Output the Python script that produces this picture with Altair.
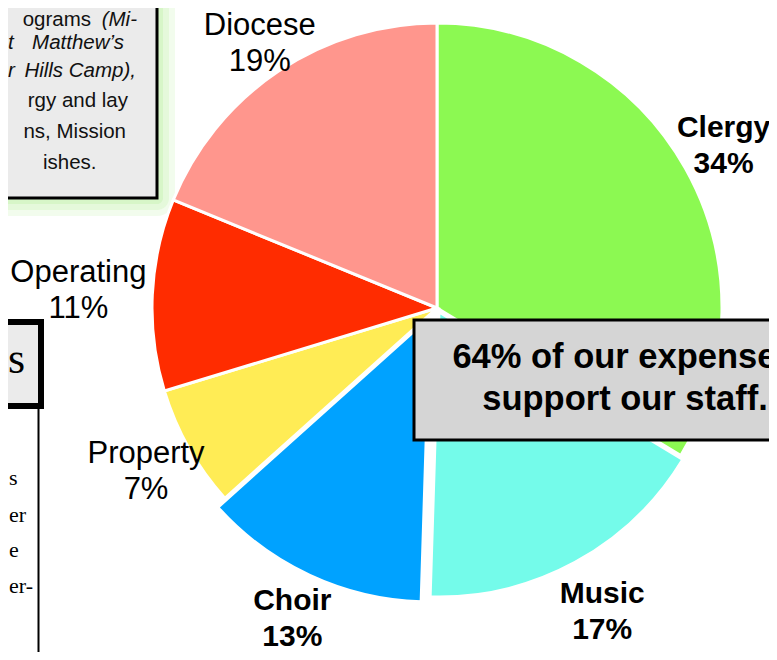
import altair as alt
import pandas as pd

# ---------------- data ----------------
categories = ["Clergy", "Music", "Choir", "Property", "Operating", "Diocese"]
percents = [34, 17, 13, 7, 11, 19]
slice_colors = ["#8CF952", "#74FBEA", "#00A2FF", "#FFEC55", "#FF2C00", "#FF968D"]
bold_categories = ["Clergy", "Music", "Choir"]
callout_lines = ["64% of our expenses", "support our staff."]
note_words = ["ograms", "(Mi-", "t", "Matthew\u2019s", "r", "Hills Camp),", "rgy and lay", "ns, Mission", "ishes."]
column_lines = ["s", "er", "e", "er-"]
box_title = "s"

# ---------------- layout (image pixels, page margin 8) ----------------
M = 8
CX, CY, R = 437 - M, 308 - M, 285
LH = 36
label_radius = {"Clergy": 329, "Music": 346, "Choir": 343,
                "Property": 334, "Operating": 359, "Diocese": 318}
explode = {"Music": (2, 4), "Choir": (-7, 9)}

df = pd.DataFrame({"category": categories, "value": percents,
                   "order": list(range(len(categories)))})

radius_expr = " : ".join(
    f"datum.category === '{k}' ? {v}" for k, v in label_radius.items()
) + " : 330"

base = alt.Chart(df).transform_joinaggregate(
    total="sum(value)"
).transform_window(
    cum="sum(value)", sort=[alt.SortField("order")], frame=[None, 0]
).transform_calculate(
    t0="(datum.cum - datum.value) / datum.total * 2 * PI",
    t1="datum.cum / datum.total * 2 * PI",
    mid="(datum.cum - datum.value / 2) / datum.total * 2 * PI",
    label="datum.category + '\\n' + datum.value + '%'",
)

color = alt.Color("category:N", scale=alt.Scale(domain=categories, range=slice_colors), legend=None)


def arcs(filter_expr, dx=0, dy=0):
    return base.transform_filter(filter_expr).mark_arc(
        outerRadius=R, stroke="white", strokeWidth=3
    ).encode(
        theta=alt.Theta("t0:Q", scale=None),
        theta2="t1:Q",
        color=color,
        x=alt.value(CX + dx),
        y=alt.value(CY + dy),
    )


exploded = list(explode.keys())
pie_layers = [arcs(alt.FieldOneOfPredicate(field="category", oneOf=[c for c in categories if c not in exploded]))]
for name, (dx, dy) in explode.items():
    pie_layers.append(arcs(alt.FieldEqualPredicate(field="category", equal=name), dx, dy))


def labels(names, weight, size):
    return base.transform_filter(
        alt.FieldOneOfPredicate(field="category", oneOf=names)
    ).transform_calculate(
        r=radius_expr,
        lx=f"{CX} + datum.r * sin(datum.mid)",
        ly=f"{CY} - datum.r * cos(datum.mid) - {LH / 2}",
    ).mark_text(
        font="Liberation Sans", fontSize=size, fontWeight=weight, lineBreak="\n",
        lineHeight=LH, align="center", baseline="middle", color="black"
    ).encode(
        x=alt.X("lx:Q", scale=None, axis=None),
        y=alt.Y("ly:Q", scale=None, axis=None),
        text="label:N",
    )


label_layers = [
    labels(bold_categories, "bold", 30),
    labels([c for c in categories if c not in bold_categories], "normal", 31),
]

dummy = alt.Chart(pd.DataFrame({"d": [0]}))


def rect(x1, y1, x2, y2, **kw):
    return dummy.mark_rect(**kw).encode(
        x=alt.value(x1 - M), x2=alt.value(x2 - M),
        y=alt.value(y1 - M), y2=alt.value(y2 - M))


def txt(s, X, Y, **kw):
    return dummy.mark_text(**kw).encode(
        x=alt.value(X - M), y=alt.value(Y - M), text=alt.value(s))


deco = []
# top-left note box with green glow
for e, op in [(18, 0.18), (12, 0.22), (6, 0.3)]:
    deco.append(rect(-40, -40, 157 + e, 198 + e, fill="#B6F09A", opacity=op, cornerRadius=e))
deco.append(rect(-40, -40, 157, 198, fill="#EBEBEB", stroke="black", strokeWidth=3))
nf = dict(font="Liberation Sans", fontSize=20.5, baseline="alphabetic", color="#111111")
it = dict(nf, fontStyle="italic")
deco.append(txt(note_words[0], 91, 26, align="right", **nf))
deco.append(txt(note_words[1], 137, 26, align="right", **it))
deco.append(txt(note_words[2], 8, 49, align="left", **it))
deco.append(txt(note_words[3], 124, 49, align="right", **it))
deco.append(txt(note_words[4], 8, 77, align="left", **it))
deco.append(txt(note_words[5], 136, 77, align="right", **it))
deco.append(txt(note_words[6], 128, 107, align="right", **nf))
deco.append(txt(note_words[7], 126, 138, align="right", **nf))
deco.append(txt(note_words[8], 43, 169, align="left", **nf))

# left title box + column
deco.append(rect(-40, 322, 41, 406, fill="#EBEBEB", stroke="black", strokeWidth=6))
deco.append(txt(box_title, 8, 373, align="left", font="Liberation Serif", fontSize=44,
                baseline="alphabetic", color="black"))
deco.append(dummy.mark_rule(color="black", strokeWidth=2).encode(
    x=alt.value(38.5 - M), y=alt.value(406 - M), y2=alt.value(670 - M)))
col_font = dict(font="Liberation Serif", fontSize=22, baseline="alphabetic", align="left", color="black")
for s, yb in zip(column_lines, [485, 522, 557, 593]):
    deco.append(txt(s, 9, yb, **col_font))

# callout box
callout = [rect(414, 320, 840, 440, fill="#D5D5D5", stroke="black", strokeWidth=3)]
call_font = dict(font="Liberation Sans", fontSize=34.5, fontWeight="bold", align="center",
                 baseline="alphabetic", color="black")
callout.append(txt(callout_lines[0], 624, 368, **call_font))
callout.append(txt(callout_lines[1], 625, 410, **call_font))

chart = alt.layer(*deco, *pie_layers, *label_layers, *callout).properties(
    width=761, height=644, autosize="none", padding=0
).configure_view(stroke=None)

chart.save("out.html", embed_options={"renderer": "svg", "actions": False})
